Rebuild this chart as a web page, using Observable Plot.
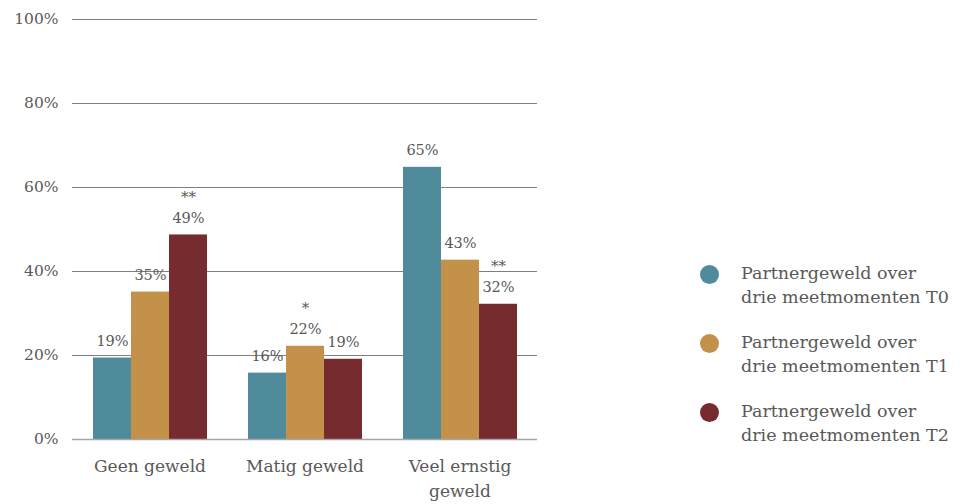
<!DOCTYPE html>
<html>
<head>
<meta charset="utf-8">
<script src="https://cdn.jsdelivr.net/npm/d3@7"></script>
<script src="https://cdn.jsdelivr.net/npm/@observablehq/plot@0.6"></script>
<style>
  body { margin: 0; background: white; }
  #wrap { position: relative; width: 966px; height: 504px; font-family: "DejaVu Serif", serif; color: #595959; }
  #legend { position: absolute; left: 700px; top: 261px; }
  .item { display: flex; align-items: flex-start; margin-bottom: 21px; }
  .sw { width: 19px; height: 19px; border-radius: 50%; margin-top: 4px; margin-right: 22px; flex: none; }
  .lbl { font-size: 17.5px; line-height: 24px; white-space: nowrap; }
</style>
</head>
<body>
<div id="wrap"><div id="chart"></div><div id="legend"></div></div>
<script>
const categories = ["Geen geweld", "Matig geweld", "Veel ernstig geweld"];
const categoryLabels = ["Geen geweld", "Matig geweld", "Veel ernstig\ngeweld"];
const seriesKeys = ["T0", "T1", "T2"];
const seriesNames = [
  "Partnergeweld over\ndrie meetmomenten T0",
  "Partnergeweld over\ndrie meetmomenten T1",
  "Partnergeweld over\ndrie meetmomenten T2"
];
const seriesColors = ["#4f8b9b", "#c4914a", "#762c2e"];
const valuesT0 = [19.4, 15.8, 64.8];
const valuesT1 = [35.1, 22.2, 42.7];
const valuesT2 = [48.7, 19.1, 32.2];
const sigT0 = ["", "", ""];
const sigT1 = ["", "*", ""];
const sigT2 = ["**", "", "**"];
const yTicks = [0, 20, 40, 60, 80, 100];

const valueSets = [valuesT0, valuesT1, valuesT2];
const sigSets = [sigT0, sigT1, sigT2];
const data = [];
categories.forEach((c, i) => {
  seriesKeys.forEach((s, j) => {
    data.push({category: c, series: s, value: valueSets[j][i], sig: sigSets[j][i]});
  });
});
const FONT = "'DejaVu Serif', serif";

const chart = Plot.plot({
  width: 600,
  height: 504,
  marginLeft: 72,
  marginRight: 63,
  marginTop: 19,
  marginBottom: 65,
  style: {fontFamily: FONT, fontSize: "15.5px", color: "#595959", background: "white"},
  fx: {domain: categories, padding: 0, axis: null},
  x: {domain: seriesKeys, paddingInner: 0, paddingOuter: 0.5, axis: null},
  y: {domain: [0, 100], ticks: yTicks, tickFormat: d => d + "%", tickSize: 0, tickPadding: 14, label: null},
  color: {domain: seriesKeys, range: seriesColors},
  marks: [
    Plot.ruleY(yTicks.filter(d => d > 0), {stroke: "#7f7f7f", strokeWidth: 1}),
    Plot.barY(data, {fx: "category", x: "series", y: "value", fill: "series"}),
    Plot.ruleY([0], {stroke: "#a6a6a6", strokeWidth: 1.5}),
    Plot.text(data, {fx: "category", x: "series", y: "value", text: d => Math.round(d.value) + "%", dy: -17, fill: "#595959", fontSize: 14.5}),
    Plot.text(data, {fx: "category", x: "series", y: "value", text: "sig", dy: -38, fill: "#595959", fontSize: 15}),
    Plot.text(categories, {fx: d => d, frameAnchor: "bottom", dy: 14, text: (d, i) => categoryLabels[i], lineAnchor: "top", lineHeight: 1.5, fontSize: 17, fill: "#595959"})
  ]
});
document.getElementById("chart").appendChild(chart);

const legend = document.getElementById("legend");
seriesKeys.forEach((s, i) => {
  const item = document.createElement("div");
  item.className = "item";
  const sw = document.createElement("div");
  sw.className = "sw";
  sw.style.background = seriesColors[i];
  const lbl = document.createElement("div");
  lbl.className = "lbl";
  lbl.innerHTML = seriesNames[i].split("\n").join("<br>");
  item.appendChild(sw);
  item.appendChild(lbl);
  legend.appendChild(item);
});
</script>
</body>
</html>
